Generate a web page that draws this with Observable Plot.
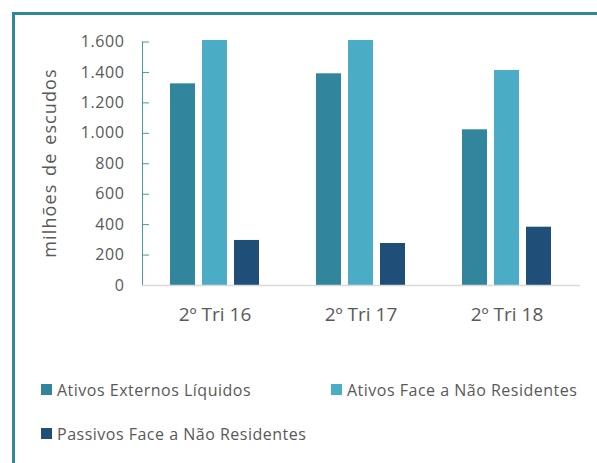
<!DOCTYPE html>
<html><head><meta charset="utf-8">
<script src="https://cdn.jsdelivr.net/npm/d3@7"></script>
<script src="https://cdn.jsdelivr.net/npm/@observablehq/plot@0.6"></script>
<style>
html,body{margin:0;padding:0;background:#fff;}
#wrap{position:relative;width:597px;height:463px;overflow:hidden;font-family:"Open Sans",sans-serif;color:#595959;}
#frame{position:absolute;left:12px;top:12px;right:-5px;bottom:-5px;border-top:3px solid #31859C;border-left:3px solid #31859C;}
#chart{position:absolute;left:0;top:0;}
#ylabel{position:absolute;left:48.5px;top:163px;transform:translate(-50%,-50%) rotate(-90deg);white-space:nowrap;font-size:18px;letter-spacing:1.1px;word-spacing:2px;line-height:1.362;}
.item{position:absolute;font-size:16px;line-height:16px;letter-spacing:0.5px;white-space:nowrap;}
.item .sw{position:absolute;width:11px;height:11px;top:2px;left:-16px;}
.item:nth-child(1){left:57px;top:382px;}
.item:nth-child(2){left:347px;top:382px;}
.item:nth-child(3){left:57px;top:426px;}
g[aria-label="y-axis tick label"] text{letter-spacing:0.6px;}
</style></head><body>
<div id="wrap"><div id="frame"></div><div id="chart"></div><div id="ylabel">milhões de escudos</div><div id="legend"></div></div>
<script>
const periods = ["2º Tri 16", "2º Tri 17", "2º Tri 18"];
const series = ["Ativos Externos Líquidos", "Ativos Face a Não Residentes", "Passivos Face a Não Residentes"];
const ativosExternosLiquidos = [1325, 1391, 1023];
const ativosFaceNaoResidentes = [1610, 1610, 1413];
const passivosFaceNaoResidentes = [296, 276, 383];
const colors = ["#31859C", "#4BACC6", "#1F4E79"];
const yTicks = [0, 200, 400, 600, 800, 1000, 1200, 1400, 1600];

const seriesValues = [ativosExternosLiquidos, ativosFaceNaoResidentes, passivosFaceNaoResidentes];
const rows = periods.flatMap((p, i) => series.map((s, j) => ({period: p, series: s, value: seriesValues[j][i]})));
const fmt = d3.formatLocale({decimal: ",", thousands: ".", grouping: [3], currency: ["", ""]}).format(",");
const axisColor = "#4A97A8";
const barW = 25, barStep = 32, group = 89;

const chart = Plot.plot({
  width: 597, height: 340,
  marginLeft: 142, marginRight: 17, marginTop: 41.5, marginBottom: 55,
  style: {background: "transparent", fontFamily: "Open Sans", color: "#595959", overflow: "visible"},
  x: {domain: periods, paddingInner: 0.39, paddingOuter: 0.195},
  y: {domain: [0, 1600]},
  color: {domain: series, range: colors},
  marks: [
    Plot.axisY(yTicks, {tickSize: 0, tickPadding: 18, tickFormat: fmt, fontSize: 16, fill: "#595959", label: null}),
    Plot.axisY(yTicks, {tickSize: -7, tickFormat: () => "", stroke: axisColor, label: null}),
    Plot.axisX({tickSize: 0, tickPadding: 22, fontSize: 19, fill: "#595959", label: null}),
    Plot.frame({anchor: "left", stroke: axisColor}),
    ...series.map((s, j) => Plot.barY(rows.filter(r => r.series === s), {
      x: "period", y: "value", fill: "series",
      insetLeft: j * barStep, insetRight: group - barW - j * barStep
    })),
    Plot.ruleY([0], {stroke: "#D9D9D9", strokeWidth: 1.5})
  ]
});
document.getElementById("chart").appendChild(chart);

const color = chart.scale("color");
const legend = document.getElementById("legend");
series.forEach(s => {
  const it = document.createElement("div");
  it.className = "item";
  const sw = document.createElement("span");
  sw.className = "sw";
  sw.style.background = color.apply(s);
  it.appendChild(sw);
  it.appendChild(document.createTextNode(s));
  legend.appendChild(it);
});
</script>
</body></html>
